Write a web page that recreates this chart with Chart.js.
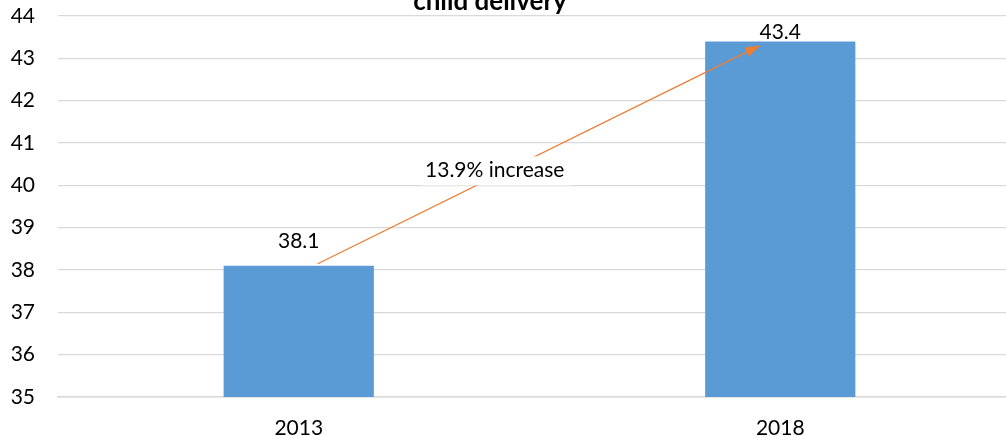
<!DOCTYPE html>
<html>
<head>
<meta charset="utf-8">
<script src="https://cdn.jsdelivr.net/npm/chart.js@4"></script>
<style>
html,body{margin:0;padding:0;overflow:hidden;background:#fff}
#wrap{width:1021px;height:436px}
</style>
</head>
<body>
<div id="wrap"><canvas id="chart"></canvas></div>
<script>

const years=["2013","2018"]
const values=[38.1,43.4]
const titleText="child delivery"
const changeText="13.9% increase"

const font="Lato"

const extras={
id:"extras",
afterDatasetsDraw(chart){

let ctx=chart.ctx
let x=chart.scales.x
let y=chart.scales.y
let area=chart.chartArea

ctx.save()

ctx.fillStyle="#000"
ctx.font="21px "+font
ctx.textAlign="center"
ctx.textBaseline="middle"
values.forEach((v,i)=>{
let top=y.getPixelForValue(v)
let ly=Math.max(top-25,area.top+16)
ctx.fillText(v.toFixed(1),x.getPixelForValue(i),ly)
})

let x1=x.getPixelForValue(0)+19
let y1=y.getPixelForValue(values[0])-2
let x2=x.getPixelForValue(1)-20
let y2=y.getPixelForValue(values[1])+4

ctx.strokeStyle="#ed7d31"
ctx.fillStyle="#ed7d31"
ctx.lineWidth=1.3
ctx.beginPath()
ctx.moveTo(x1,y1)
ctx.lineTo(x2,y2)
ctx.stroke()

let a=Math.atan2(y2-y1,x2-x1)
ctx.beginPath()
ctx.moveTo(x2,y2)
ctx.lineTo(x2-15*Math.cos(a)+5*Math.sin(a),y2-15*Math.sin(a)-5*Math.cos(a))
ctx.lineTo(x2-15*Math.cos(a)-5*Math.sin(a),y2-15*Math.sin(a)+5*Math.cos(a))
ctx.closePath()
ctx.fill()

let t=0.4
let bx=x1+(x2-x1)*t
let by=y1+(y2-y1)*t-6
ctx.fillStyle="#fff"
ctx.fillRect(bx-73,by-14,150,29)
ctx.fillStyle="#000"
ctx.font="21px "+font
ctx.fillText(changeText,bx,by)

ctx.font="bold 26px "+font
ctx.textBaseline="alphabetic"
ctx.fillText(titleText,490,10)

ctx.restore()

}
}

new Chart(document.getElementById("chart"),{
type:"bar",
data:{
labels:years,
datasets:[{data:values,backgroundColor:"#5b9bd5",categoryPercentage:1,barPercentage:0.312}]
},
options:{
responsive:true,
maintainAspectRatio:false,
animation:false,
layout:{padding:{top:16,left:0,right:0,bottom:0}},
plugins:{legend:{display:false},tooltip:{enabled:false}},
scales:{
x:{
grid:{display:false,drawTicks:false},
border:{color:"#d9d9d9",width:1.5},
ticks:{color:"#000",font:{family:font,size:21},padding:19},
afterFit(s){s.height=39;s.paddingLeft=0;s.paddingRight=0}
},
y:{
min:35,max:44,
grid:{color:"#d9d9d9",lineWidth:1.3,drawTicks:false},
border:{display:false},
ticks:{stepSize:1,color:"#000",font:{family:font,size:21},padding:23},
afterFit(s){s.width=58;s.paddingTop=0;s.paddingBottom=0}
}
}
},
plugins:[extras]
})

</script>
</body>
</html>
